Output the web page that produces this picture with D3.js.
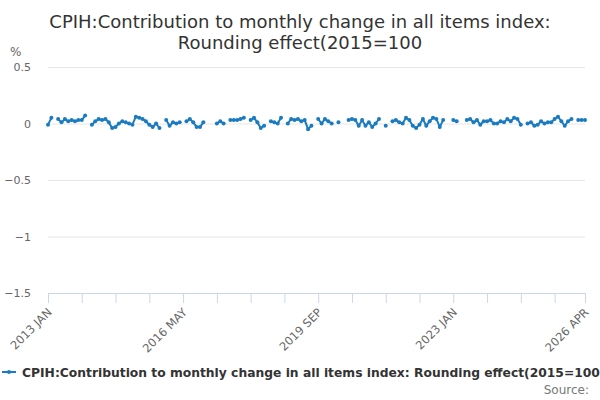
<!DOCTYPE html>
<html>
<head>
<meta charset="utf-8">
<script src="https://cdn.jsdelivr.net/npm/d3@7"></script>
<style>
  body { margin: 0; background: #fff; }
  svg { font-family: "DejaVu Sans", sans-serif; }
</style>
</head>
<body>
<div id="chart"></div>
<script>
// chart data
const titleLines = ["CPIH:Contribution to monthly change in all items index:", "Rounding effect(2015=100"];
const seriesName = "CPIH:Contribution to monthly change in all items index: Rounding effect(2015=100";
const monthNames = ["JAN","FEB","MAR","APR","MAY","JUN","JUL","AUG","SEP","OCT","NOV","DEC"];
const yTicks = [0.5, 0, -0.5, -1, -1.5];
const labelledTicks = ["2013 JAN", "2016 MAY", "2019 SEP", "2023 JAN", "2026 APR"];

// monthly values Jan 2013 .. Apr 2026 (null = no value)
const values = [
  -0.01, 0.05, null, 0.04, 0.01, 0.04, 0.02, 0.03, 0.02, 0.03,      // 2013 Jan-Oct
  0.03, 0.07, null, -0.01, 0.02, 0.04, 0.03, 0.04, 0.01, -0.04,     // 2013 Nov - 2014 Aug
  -0.03, 0.00, 0.02, 0.01, 0.00, -0.01, 0.06, 0.05, 0.04, 0.02,     // 2014 Sep - 2015 Jun
  -0.01, -0.03, 0.00, -0.04, null, 0.03, -0.02, 0.01, 0.00, 0.01,   // 2015 Jul - 2016 Apr
  null, 0.02, 0.04, 0.01, -0.03, -0.03, 0.01, null, null, null,     // 2016 May - 2017 Feb
  0.00, 0.02, 0.00, null, 0.03, 0.03, 0.03, 0.04, 0.05, null,       // 2017 Mar - 2017 Dec
  0.03, 0.05, 0.01, -0.04, -0.02, null, 0.02, 0.01, 0.00, 0.05,     // 2018 Jan - 2018 Oct
  null, 0.00, 0.04, 0.03, 0.04, 0.02, 0.03, -0.05, -0.02, null,     // 2018 Nov - 2019 Aug
  0.04, 0.00, 0.04, 0.02, 0.00, null, 0.01, null, null, 0.03,       // 2019 Sep - 2020 Jun
  0.04, 0.03, -0.02, 0.03, -0.02, 0.01, -0.03, 0.00, 0.04, null,    // 2020 Jul - 2021 Apr
  -0.02, null, 0.02, 0.03, 0.01, 0.00, 0.05, 0.03, -0.02, -0.04,    // 2021 May - 2022 Feb
  -0.01, 0.04, -0.02, 0.02, 0.05, 0.04, -0.03, 0.03, null, null,    // 2022 Mar - 2022 Dec
  0.03, 0.02, null, null, 0.03, 0.04, 0.01, 0.03, -0.01, 0.02,      // 2023 Jan - 2023 Oct
  0.02, 0.03, 0.00, 0.00, 0.02, 0.01, 0.04, 0.02, 0.05, 0.04,       // 2023 Nov - 2024 Aug
  -0.01, null, 0.00, 0.01, -0.02, -0.01, 0.02, 0.00, 0.01, 0.01,    // 2024 Sep - 2025 Jun
  0.04, 0.06, 0.02, -0.02, 0.02, 0.04, null, 0.03, 0.03, 0.03       // 2025 Jul - 2026 Apr
];

// category labels, one per month
const categories = [];
for (let y = 2013; categories.length < values.length; y++) {
  monthNames.forEach(m => { if (categories.length < values.length) categories.push(y + " " + m); });
}
const data = categories.map((c, i) => ({ cat: c, v: values[i] }));

const width = 600, height = 400;
const margin = { top: 67, right: 15, bottom: 107, left: 48 };
const lineColor = "#1b7bc0";

const svg = d3.select("#chart").append("svg")
  .attr("width", width)
  .attr("height", height);

const x = d3.scalePoint()
  .domain(categories)
  .range([margin.left, width - margin.right]);

const y = d3.scaleLinear()
  .domain([-1.5, 0.5])
  .range([height - margin.bottom, margin.top]);

// title
svg.append("text")
  .attr("x", width / 2)
  .attr("y", 28)
  .attr("text-anchor", "middle")
  .style("font-size", "18px")
  .style("fill", "#333")
  .selectAll("tspan")
  .data(titleLines)
  .enter().append("tspan")
  .attr("x", width / 2)
  .attr("dy", (d, i) => i === 0 ? 0 : "1.15em")
  .text(d => d);

// unit label
svg.append("text")
  .attr("x", 10)
  .attr("y", 56)
  .style("font-size", "12px")
  .style("fill", "#666")
  .text("%");

// horizontal grid lines + y labels
const yAxis = svg.append("g")
  .attr("transform", `translate(${margin.left},0)`)
  .call(d3.axisLeft(y).tickValues(yTicks).tickSize(-(width - margin.left - margin.right)).tickFormat(d3.format("")));
yAxis.select(".domain").remove();
yAxis.selectAll(".tick line").attr("stroke", "#e6e6e6");
yAxis.selectAll(".tick text")
  .attr("x", -17)
  .style("font-size", "11px")
  .style("font-family", "DejaVu Sans, sans-serif")
  .style("fill", "#666");

// x axis: a tick every 10 months plus the last month
const tickCats = categories.filter((c, i) => i % 10 === 0);
tickCats.push(categories[categories.length - 1]);
const xAxis = svg.append("g")
  .attr("transform", `translate(0,${height - margin.bottom})`)
  .call(d3.axisBottom(x).tickValues(tickCats).tickSize(10).tickSizeOuter(0)
    .tickFormat(d => labelledTicks.includes(d) ? d : ""));
xAxis.select(".domain").attr("stroke", "#ccd6eb");
xAxis.selectAll(".tick line").attr("stroke", "#ccd6eb");
xAxis.selectAll(".tick text")
  .attr("x", 0).attr("y", 0).attr("dy", 0)
  .attr("text-anchor", "end")
  .attr("transform", "translate(4,20) rotate(-45)")
  .style("font-size", "11.5px")
  .style("font-family", "DejaVu Sans, sans-serif")
  .style("fill", "#666");

// series line with gaps
const line = d3.line()
  .defined(d => d.v !== null)
  .x(d => x(d.cat))
  .y(d => y(d.v));

svg.append("path")
  .datum(data)
  .attr("fill", "none")
  .attr("stroke", lineColor)
  .attr("stroke-width", 2)
  .attr("d", line);

svg.selectAll(".dot")
  .data(data.filter(d => d.v !== null))
  .enter().append("circle")
  .attr("class", "dot")
  .attr("cx", d => x(d.cat))
  .attr("cy", d => y(d.v))
  .attr("r", 2)
  .attr("fill", lineColor);

// legend
const legend = svg.append("g").attr("transform", "translate(0,372)");
legend.append("line")
  .attr("x1", 2).attr("x2", 16)
  .attr("stroke", lineColor).attr("stroke-width", 2);
legend.append("circle")
  .attr("cx", 9).attr("r", 2).attr("fill", lineColor);
legend.append("text")
  .attr("x", 22)
  .attr("y", 5)
  .style("font-size", "12.3px")
  .style("font-weight", "bold")
  .style("fill", "#333")
  .text(seriesName);

// source
svg.append("text")
  .attr("x", 589)
  .attr("y", 394)
  .attr("text-anchor", "end")
  .style("font-size", "12px")
  .style("fill", "#777")
  .text("Source:");
</script>
</body>
</html>
